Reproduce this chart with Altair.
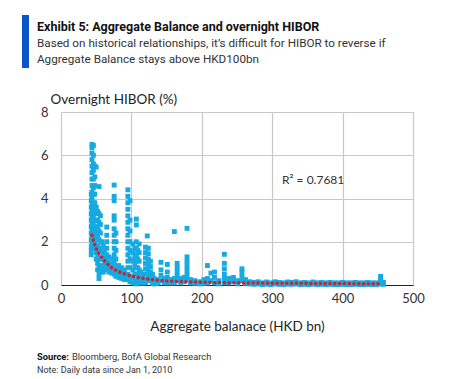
import altair as alt
import pandas as pd

# Scatter: aggregate balance (HKD bn) vs overnight HIBOR (%)
ab = [
    43,43,43,43,43,43,43,43,43,43,43,
    44,44,44,44,44,44,44,44,44,44,44,44,44,44,44,44,44,
    46,46,46,46,46,46,46,46,46,46,46,46,46,46,46,
    48,48,48,48,48,48,48,48,48,48,48,
    50,50,50,50,50,50,50,50,50,50,
    52,52,52,52,52,52,52,52,
    54,54,54,54,54,54,54,54,54,54,
    56,56,56,56,56,56,56,
    58,58,58,58,58,
    60,60,60,60,60,
    62,62,62,62,
    65,65,65,65,65,65,65,65,
    68,68,68,68,
    72,72,72,72,
    75.5,75.5,75.5,75.5,75.5,75.5,75.5,75.5,75.5,75.5,75.5,75.5,75.5,
    78,78,78,78,78,78,78,
    82,82,82,82,
    86,86,86,86,
    90,90,90,90,
    95,95,95,95,95,95,95,95,95,95,95,95,95,95,95,
    98,98,98,98,98,98,98,98,98,
    102,102,102,102,102,102,
    105,105,105,105,105,
    107,107,107,107,107,107,107,107,107,107,
    109,109,109,109,109,
    111,111,111,111,111,111,
    113,113,113,
    116,116,116,
    120,120,120,120,120,120,120,120,
    122.5,
    124,124,124,124,124,124,124,
    127,127,127,127,
    130,130,130,
    132,132,132,
    135,135,
    138,138,
    142,142,142,142,
    147,147,
    151,151,151,151,
    156,156,
    161,161,161,
    165,165,165,165,165,
    170,170,
    175,175,
    179,179,179,179,179,179,179,
    184,184,
    190,190,
    197,197,
    203,203,
    208,208,208,
    213,213,
    218,218,218,
    224,224,
    232,232,232,232,232,232,
    238,238,
    245,245,
    251,251,
    257,257,257,257,
    262,262,
    268,268, 274,274, 280,280, 286,286, 292,292, 298,298, 304,304, 310,310,
    316,316, 322,322, 328,328, 334,334, 340,340, 346,346, 352,352, 358,358,
    364,364, 370,370, 376,376, 382,382, 388,388, 394,394, 400,400, 406,406,
    412,412, 418,418, 424,424, 430,430, 436,436, 442,442, 448,448,
    454,454,454,454, 458,458,
]
hibor = [
    4.2,3.9,3.6,3.3,3.0,2.7,2.4,2.1,1.8,1.6,1.4,
    6.5,6.35,6.1,5.8,5.5,5.2,4.9,4.6,4.3,4.0,3.7,3.4,3.1,2.8,2.5,2.2,1.9,
    6.45,6.0,5.6,5.3,4.9,4.5,4.2,3.8,3.5,3.2,2.9,2.6,2.3,2.0,1.8,
    5.5,5.0,4.6,4.2,3.8,3.4,3.0,2.6,2.3,2.0,1.7,
    5.45,3.6,3.3,3.0,2.7,2.4,2.1,1.8,1.5,1.2,
    3.4,3.0,2.6,2.2,1.8,1.4,1.0,0.7,
    4.55,3.3,2.9,2.5,2.1,1.7,1.3,0.9,0.5,0.3,
    3.2,2.8,2.4,2.0,1.6,1.2,0.8,
    2.0,1.6,1.2,0.9,0.6,
    1.8,1.5,1.2,0.9,0.6,
    1.6,1.3,1.0,0.8,
    2.68,2.3,2.0,1.7,1.4,1.1,0.9,0.7,
    1.3,1.0,0.8,0.6,
    1.2,0.95,0.75,0.55,
    4.62,4.1,3.9,3.2,3.0,2.6,2.3,2.0,1.7,1.4,1.1,0.8,0.5,
    2.4,2.0,1.6,1.2,0.9,0.6,0.4,
    0.9,0.7,0.5,0.35,
    0.8,0.6,0.4,0.3,
    0.7,0.5,0.35,0.25,
    4.4,4.1,3.8,3.5,3.2,2.9,2.6,2.3,2.0,1.7,1.4,1.1,0.8,0.5,0.25,
    3.9,3.0,2.5,2.0,1.6,1.2,0.8,0.4,0.15,
    1.9,1.5,1.1,0.7,0.35,0.1,
    1.7,1.3,0.9,0.5,0.2,
    3.05,2.78,2.0,1.7,1.4,1.1,0.8,0.5,0.2,0.05,
    1.6,1.2,0.8,0.45,0.15,
    1.9,1.5,1.1,0.7,0.35,0.1,
    0.6,0.35,0.1,
    0.5,0.3,0.1,
    1.75,1.5,1.25,1.0,0.75,0.5,0.25,0.1,
    2.27,
    1.7,1.45,1.2,0.95,0.7,0.45,0.2,
    1.1,0.85,0.6,0.35,
    0.5,0.25,0.08,
    0.3,0.15,0.05,
    0.2,0.06,
    0.25,0.1,
    1.05,0.7,0.45,0.2,
    0.3,0.1,
    0.95,0.6,0.35,0.1,
    0.25,0.1,
    2.47,0.3,0.1,
    1.0,0.8,0.6,0.4,0.2,
    0.3,0.1,
    0.35,0.15,
    2.62,1.3,1.1,0.9,0.7,0.5,0.3,
    0.25,0.1,
    0.2,0.08,
    0.15,0.05,
    0.25,0.08,
    0.9,0.3,0.1,
    0.55,0.2,
    0.6,0.35,0.1,
    0.2,0.05,
    1.42,1.0,0.75,0.5,0.3,0.1,
    0.3,0.1,
    0.35,0.15,
    0.2,0.05,
    0.75,0.6,0.4,0.2,
    0.25,0.08,
    0.15,0.05, 0.12,0.03, 0.15,0.05, 0.1,0.02, 0.14,0.04, 0.1,0.02, 0.15,0.05, 0.12,0.03,
    0.1,0.02, 0.14,0.04, 0.12,0.03, 0.15,0.05, 0.1,0.02, 0.12,0.03, 0.1,0.02, 0.14,0.04,
    0.1,0.02, 0.12,0.03, 0.1,0.02, 0.12,0.03, 0.1,0.02, 0.1,0.02, 0.12,0.03, 0.1,0.02,
    0.1,0.02, 0.12,0.03, 0.1,0.02, 0.1,0.02, 0.12,0.03, 0.1,0.02, 0.1,0.02,
    0.4,0.3,0.2,0.05, 0.12,0.03,
]

# Power-law trend line (red dotted)
trend_x = [44, 47, 51, 57, 63, 70, 80, 90, 100, 110, 120, 135, 150, 170, 200, 250, 300, 350, 400, 455]
trend_y = [2.3, 1.95, 1.62, 1.32, 1.08, 0.85, 0.65, 0.52, 0.42, 0.34, 0.29, 0.23, 0.19, 0.16, 0.13, 0.1, 0.085, 0.075, 0.065, 0.06]

x_ticks = [0, 100, 200, 300, 400, 500]
y_ticks = [0, 2, 4, 6, 8]

pts = pd.DataFrame({"ab": ab, "hibor": hibor})
trend = pd.DataFrame({"ab": trend_x, "hibor": trend_y})

W, H = 352, 173
FONT = "Lato"
HEAD = "Roboto"

xs = alt.Scale(domain=[0, 500], nice=False)
ys = alt.Scale(domain=[0, 8], nice=False)

x_axis = alt.Axis(values=x_ticks, title="Aggregate balanace (HKD bn)", grid=True, gridColor="#c8c8c8",
                  gridWidth=1.2, domainColor="#222222", domainWidth=1.2, ticks=False, labelFont=FONT,
                  labelFontSize=13, labelColor="#333333", labelPadding=7, titleFont=FONT, titleFontSize=13.5,
                  titleFontWeight="normal", titleColor="#222222", titleY=41, titleBaseline="middle",
                  labelFlush=False)
y_axis = alt.Axis(values=y_ticks, title="Overnight HIBOR (%)", grid=True, gridColor="#c8c8c8", gridWidth=1.2,
                  domain=False, ticks=False, labelFont=FONT, labelFontSize=13, labelColor="#333333",
                  labelPadding=13, titleFont=FONT, titleFontSize=13.5, titleFontWeight="normal",
                  titleColor="#222222", titleAngle=0, titleAlign="left", titleBaseline="alphabetic",
                  titleX=-11, titleY=-9)

scatter = alt.Chart(pts).mark_square(size=24, color="#16aae2", opacity=1).encode(
    x=alt.X("ab:Q", scale=xs, axis=x_axis),
    y=alt.Y("hibor:Q", scale=ys, axis=y_axis),
)

trend_line = alt.Chart(trend).mark_line(color="#d0202c", strokeWidth=3.5, strokeDash=[0.1, 4.7],
                                        strokeCap="round", interpolate="monotone").encode(
    x=alt.X("ab:Q", scale=xs),
    y=alt.Y("hibor:Q", scale=ys),
)

one = alt.Data(values=[{"k": 1}])

r2 = alt.Chart(one).mark_text(text="R² = 0.7681", font=FONT, fontSize=12, color="#333333",
                              align="left", baseline="middle").encode(
    x=alt.value(221), y=alt.value(68))

bar = alt.Chart(one).mark_rect(color="#0a55c8").encode(
    x=alt.value(-39), x2=alt.value(-32), y=alt.value(-97), y2=alt.value(-44))

def txt(s, x, y, size, weight="normal", color="#222222", font=HEAD):
    return alt.Chart(one).mark_text(text=s, font=font, fontSize=size, fontWeight=weight, color=color,
                                    align="left", baseline="alphabetic").encode(
        x=alt.value(x), y=alt.value(y))

title = txt("Exhibit 5: Aggregate Balance and overnight HIBOR", -24, -81, 12.5, "bold", "#111111")
sub1 = txt("Based on historical relationships, it\u2019s difficult for HIBOR to reverse if", -24, -65, 11.7, "normal", "#333333")
sub2 = txt("Aggregate Balance stays above HKD100bn", -24, -49, 11.7, "normal", "#333333")
src_b = txt("Source:", -24, 248, 9.3, "bold", "#111111")
src = txt("Bloomberg, BofA Global Research", 11, 248, 9.3, "normal", "#333333")
note = txt("Note: Daily data since Jan 1, 2010", -24, 261, 9, "normal", "#333333")

chart = alt.layer(scatter, trend_line, r2, bar, title, sub1, sub2, src_b, src, note).properties(
    width=W, height=H,
    autosize=alt.AutoSizeParams(type="none"),
    padding={"left": 53, "top": 104, "right": 30, "bottom": 94},
).configure_view(stroke=None).configure(background="white")

chart.save("out.html", embed_options={"renderer": "svg", "actions": False})
